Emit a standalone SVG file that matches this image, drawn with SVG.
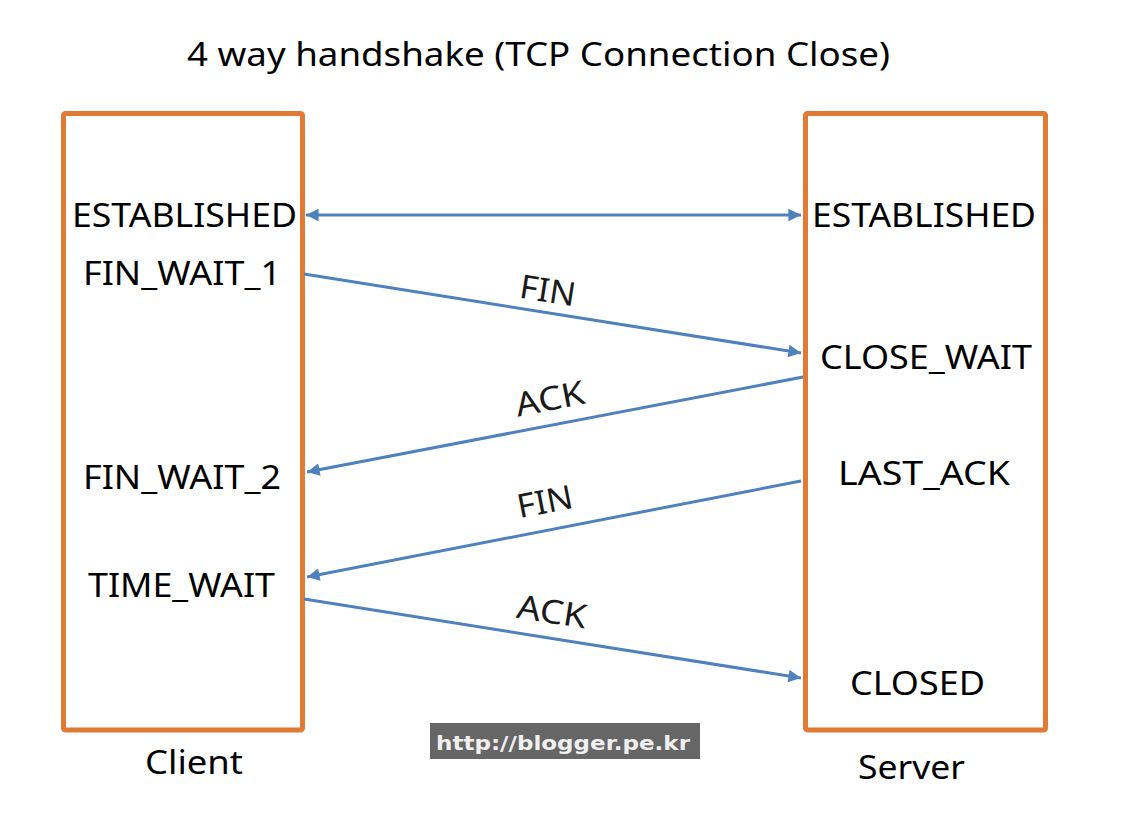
<svg xmlns="http://www.w3.org/2000/svg" width="1128" height="816" viewBox="0 0 1128 816">
  <style>
    .box { fill: #ffffff; stroke: #E07A35; stroke-width: 5; }
    .st { font-family: "Noto Sans", "Open Sans", "Liberation Sans", sans-serif; font-size: 32px; fill: #000000; }
    .lbl { font-family: "Noto Sans", "Open Sans", "Liberation Sans", sans-serif; font-size: 33px; fill: #1a1a1a; text-anchor: middle; }
    .conn { stroke: #4F81BD; stroke-width: 3; fill: none; }
    .wm { font-family: "DejaVu Sans", "Liberation Sans", sans-serif; font-size: 19px; font-weight: bold; fill: #f0f0f0; }
  </style>
  <defs>
    <marker id="ah" viewBox="0 0 10 10" refX="10" refY="5" markerWidth="5.5" markerHeight="4.2" markerUnits="strokeWidth" orient="auto-start-reverse">
      <path d="M0,0 L10,5 L0,10 z" fill="#4F81BD"/>
    </marker>
  </defs>
  <rect width="1128" height="816" fill="#ffffff"/>

  <g id="title">
    <text class="st" x="187" y="66" font-size="38" textLength="703" lengthAdjust="spacingAndGlyphs">4 way handshake (TCP Connection Close)</text>
  </g>

  <g id="client">
    <rect class="box" x="63.5" y="113.5" width="239" height="616.5" rx="2"/>
    <text class="st" x="72" y="227" textLength="225" lengthAdjust="spacingAndGlyphs">ESTABLISHED</text>
    <text class="st" x="83" y="285" textLength="198" lengthAdjust="spacingAndGlyphs">FIN_WAIT_1</text>
    <text class="st" x="83" y="489" textLength="198" lengthAdjust="spacingAndGlyphs">FIN_WAIT_2</text>
    <text class="st" x="88" y="597" textLength="187" lengthAdjust="spacingAndGlyphs">TIME_WAIT</text>
    <text class="st" x="145" y="774" font-size="34" textLength="98" lengthAdjust="spacingAndGlyphs">Client</text>
  </g>

  <g id="server">
    <rect class="box" x="805.5" y="113.5" width="240" height="616.5" rx="2"/>
    <text class="st" x="812" y="227" textLength="224" lengthAdjust="spacingAndGlyphs">ESTABLISHED</text>
    <text class="st" x="820" y="369" textLength="212" lengthAdjust="spacingAndGlyphs">CLOSE_WAIT</text>
    <text class="st" x="838" y="485" textLength="172" lengthAdjust="spacingAndGlyphs">LAST_ACK</text>
    <text class="st" x="850" y="695" textLength="135" lengthAdjust="spacingAndGlyphs">CLOSED</text>
    <text class="st" x="858" y="779" font-size="34" textLength="107" lengthAdjust="spacingAndGlyphs">Server</text>
  </g>

  <g id="connectors">
    <line class="conn" x1="306" y1="215" x2="801" y2="215" marker-start="url(#ah)" marker-end="url(#ah)"/>
    <line class="conn" x1="304" y1="274" x2="801" y2="353" marker-end="url(#ah)"/>
    <line class="conn" x1="803" y1="377" x2="307" y2="472" marker-end="url(#ah)"/>
    <line class="conn" x1="801" y1="481" x2="307" y2="577" marker-end="url(#ah)"/>
    <line class="conn" x1="304" y1="599" x2="801" y2="678" marker-end="url(#ah)"/>
    <text class="lbl" transform="translate(546,302) rotate(9)" textLength="56" lengthAdjust="spacingAndGlyphs">FIN</text>
    <text class="lbl" transform="translate(552,410) rotate(-11)" textLength="70" lengthAdjust="spacingAndGlyphs">ACK</text>
    <text class="lbl" transform="translate(547,513) rotate(-11)" textLength="56" lengthAdjust="spacingAndGlyphs">FIN</text>
    <text class="lbl" transform="translate(550,623) rotate(9)" textLength="70" lengthAdjust="spacingAndGlyphs">ACK</text>
  </g>

  <g id="watermark">
    <rect x="430" y="723" width="270" height="36" fill="#666666"/>
    <text class="wm" x="436" y="750" textLength="254" lengthAdjust="spacingAndGlyphs">http://blogger.pe.kr</text>
  </g>
</svg>
